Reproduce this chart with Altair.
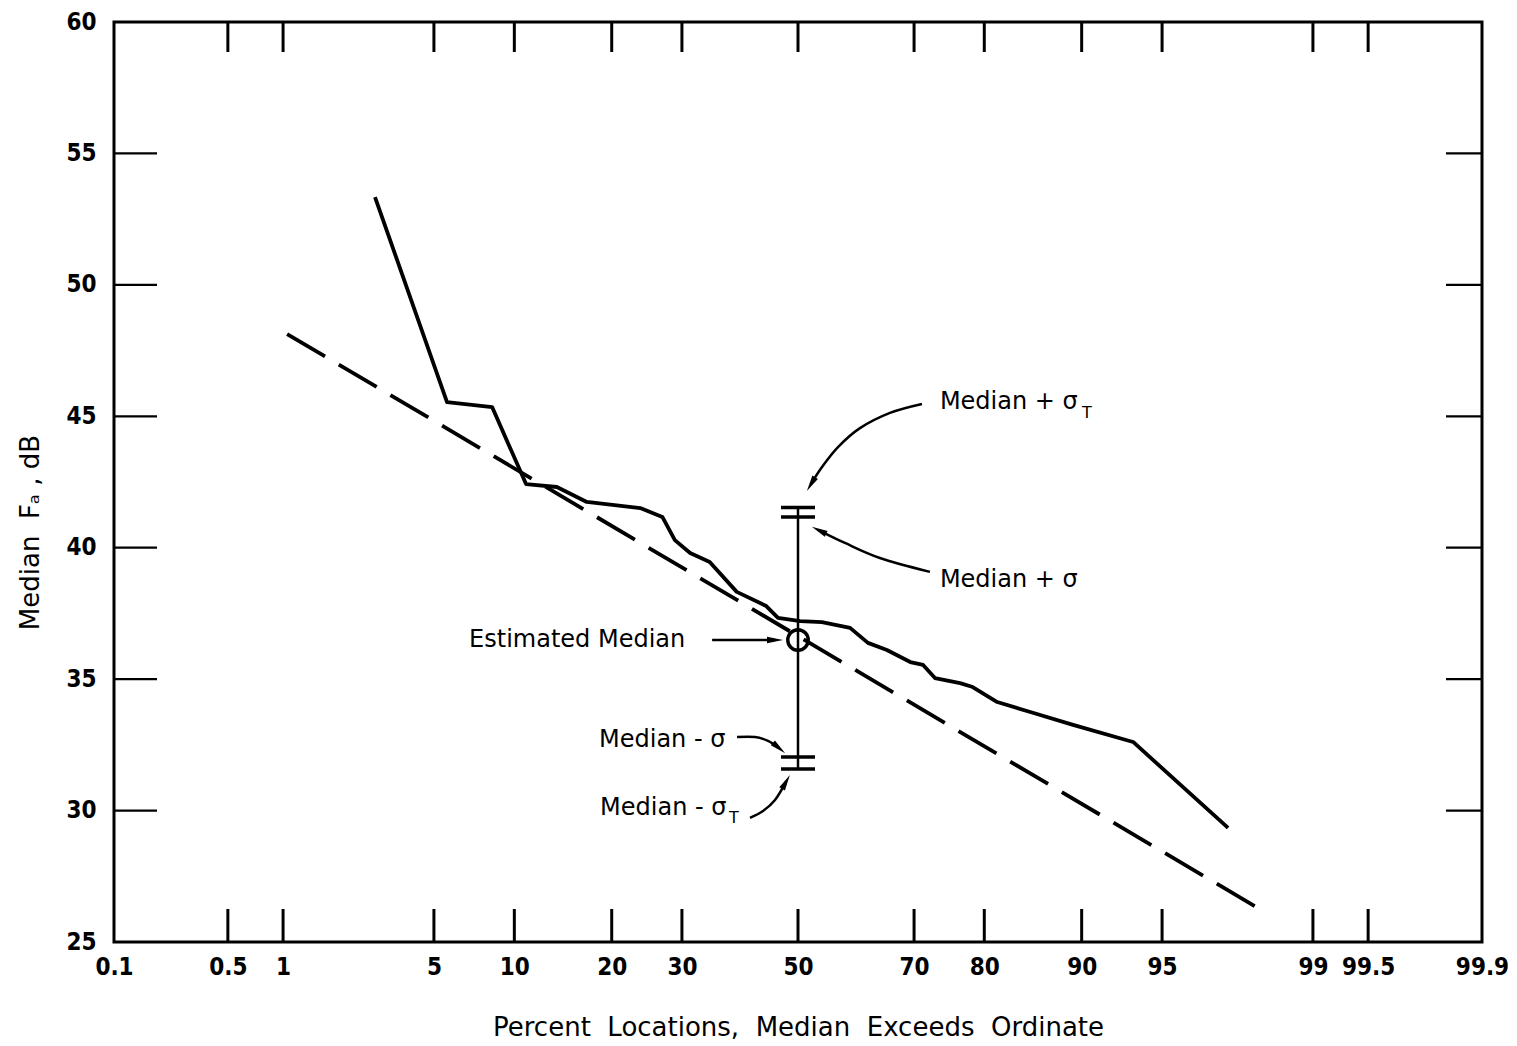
import altair as alt
import pandas as pd
from statistics import NormalDist

_nd = NormalDist()


def probit(p):
    return _nd.inv_cdf(p / 100.0)


# ---------------- data ----------------
# measured curve: percent of locations, median Fa (dB)
obs_pct = [2.80, 5.64, 8.35, 10.96, 13.8, 17.0, 23.8, 27.0, 28.9, 31.3, 34.5, 39.1,
           44.3, 46.4, 50.4, 54.3, 59.3, 62.4, 65.6, 69.4, 71.4, 73.2, 76.8, 78.5,
           81.6, 85.3, 89.3, 93.5, 97.4]
obs_db = [53.34, 45.54, 45.35, 42.42, 42.31, 41.74, 41.51, 41.17, 40.29, 39.80, 39.46,
          38.32, 37.78, 37.33, 37.21, 37.17, 36.95, 36.38, 36.11, 35.65, 35.54, 35.04,
          34.85, 34.70, 34.13, 33.75, 33.26, 32.61, 29.34]

# fitted (dashed) normal line
fit_pct = [1.05, 98.25]
fit_db = [48.13, 26.14]

# estimated median and its +/- sigma marks
median_pct = 50
median_db = 36.49
cap_names = ["Median + sigma_T", "Median + sigma", "Median - sigma", "Median - sigma_T"]
cap_db = [41.53, 41.17, 32.04, 31.58]

# axes
tick_pct = [0.1, 0.5, 1, 5, 10, 20, 30, 50, 70, 80, 90, 95, 99, 99.5, 99.9]
tick_labels = ["0.1", "0.5", "1", "5", "10", "20", "30", "50", "70", "80", "90", "95",
               "99", "99.5", "99.9"]
y_ticks = [25, 30, 35, 40, 45, 50, 55, 60]
NB = "\u00a0"
x_title = f"Percent{NB}{NB}Locations,{NB}{NB}Median{NB}{NB}Exceeds{NB}{NB}Ordinate"
y_title = f"Median{NB}{NB}F\u2090{NB},{NB}dB"

# annotations (x in probit units, y in dB)
ann_text = ["Median + σ", "Median + σ", "Estimated Median", "Median - σ", "Median - σ"]
ann_z = [0.641, 0.641, -1.486, -0.899, -0.894]
ann_db = [45.54, 38.77, 36.49, 32.69, 30.10]
sub_text = ["T", "T"]
sub_z = [1.283, -0.312]
sub_db = [45.13, 29.72]

arrow_id = [1] * 6 + [2] * 4 + [3] * 2 + [4] * 4 + [5] * 4
arrow_z = [0.560, 0.4155, 0.280, 0.1807, 0.1084, 0.0587,
           0.596, 0.370, 0.212, 0.0949,
           -0.388, -0.1039,
           -0.2755, -0.1942, -0.1355, -0.0858,
           -0.2168, -0.1581, -0.1039, -0.0542]
arrow_db = [45.47, 45.13, 44.55, 43.83, 43.07, 42.42,
            39.08, 39.61, 40.18, 40.66,
            36.49, 36.49,
            32.80, 32.80, 32.65, 32.38,
            29.72, 29.98, 30.40, 31.09]
head_angle = [211, 296, 90, 130, 29]

# ---------------- tables ----------------
obs = pd.DataFrame({"z": [probit(p) for p in obs_pct], "db": obs_db, "pct": obs_pct})
fit = pd.DataFrame({"z": [probit(p) for p in fit_pct], "db": fit_db})
caps = pd.DataFrame({"z": [probit(median_pct)] * len(cap_db), "db": cap_db, "name": cap_names})
bar = pd.DataFrame({"z": [probit(median_pct)], "db": [max(cap_db)], "bot": [min(cap_db)]})
med = pd.DataFrame({"z": [probit(median_pct)], "db": [median_db]})
tick_z = [probit(p) for p in tick_pct]
xt = pd.DataFrame({"z": tick_z[1:-1]})
yt = pd.DataFrame({"db": y_ticks[1:-1]})
ann = pd.DataFrame({"z": ann_z, "db": ann_db, "t": ann_text})
sub = pd.DataFrame({"z": sub_z, "db": sub_db, "t": sub_text})
arr = pd.DataFrame({"id": arrow_id, "z": arrow_z, "db": arrow_db,
                    "k": list(range(len(arrow_z)))})
heads = arr.groupby("id").tail(1).reset_index(drop=True).copy()
heads["ang"] = head_angle

# ---------------- scales / axes ----------------
W, H = 1368, 920
xdom = [probit(0.1), probit(99.9)]
xs = alt.Scale(domain=xdom, nice=False, zero=False)
ys = alt.Scale(domain=[25, 60], nice=False, zero=False)

label_expr = "''"
for zv, lab in reversed(list(zip(tick_z, tick_labels))):
    label_expr = f"abs(datum.value - ({zv:.6f})) < 0.01 ? '{lab}' : ({label_expr})"

LABEL_FONT = "DejaVu Sans Condensed"
TITLE_FONT = "DejaVu Sans"

x_axis = alt.Axis(values=tick_z, labelExpr=label_expr, tickSize=0, domain=False, grid=False,
                  labelFlush=False, labelOverlap=False, labelPadding=13,
                  labelFont=LABEL_FONT, labelFontSize=24, labelFontWeight="bold",
                  labelColor="black",
                  title=x_title,
                  titleFont=TITLE_FONT, titleFontSize=26, titleFontWeight="normal",
                  titleColor="black", titleY=85, titleBaseline="middle")
y_axis = alt.Axis(values=y_ticks, tickSize=0, domain=False, grid=False,
                  labelFlush=False, labelOverlap=False, labelPadding=18,
                  labelFont=LABEL_FONT, labelFontSize=24, labelFontWeight="bold",
                  labelColor="black",
                  title=y_title, titleFont=TITLE_FONT, titleFontSize=26,
                  titleFontWeight="normal", titleColor="black",
                  titleX=-84, titleY=510, titleAngle=270, titleBaseline="middle",
                  titleAlign="center")


def X():
    return alt.X("z:Q", scale=xs, axis=x_axis)


def Y(field="db:Q"):
    return alt.Y(field, scale=ys, axis=y_axis)


# ---------------- layers ----------------
solid = alt.Chart(obs).mark_line(color="black", strokeWidth=3.8, strokeJoin="round").encode(
    x=X(), y=Y(), order="pct:Q",
)

dashed = alt.Chart(fit).mark_line(color="black", strokeWidth=3.8, strokeDash=[44, 16]).encode(
    x=X(), y=Y(),
)

vbar = alt.Chart(bar).mark_rule(color="black", strokeWidth=2.5).encode(
    x=X(), y=Y(), y2="bot:Q",
)

cap_marks = alt.Chart(caps).mark_tick(color="black", orient="horizontal", size=34,
                                      thickness=3.5, opacity=1).encode(
    x=X(), y=Y(),
)

med_mark = alt.Chart(med).mark_point(shape="circle", filled=False, color="black",
                                     size=420, strokeWidth=3.4, opacity=1).encode(
    x=X(), y=Y(),
)

# inward frame ticks
top_ticks = alt.Chart(xt).mark_rule(color="black", strokeWidth=3).encode(
    x=X(), y=alt.value(0), y2=alt.value(30))
bot_ticks = alt.Chart(xt).mark_rule(color="black", strokeWidth=3).encode(
    x=X(), y=alt.value(H - 33), y2=alt.value(H))
left_ticks = alt.Chart(yt).mark_rule(color="black", strokeWidth=2.2).encode(
    y=Y(), x=alt.value(0), x2=alt.value(43))
right_ticks = alt.Chart(yt).mark_rule(color="black", strokeWidth=2.2).encode(
    y=Y(), x=alt.value(W - 36), x2=alt.value(W))

ann_marks = alt.Chart(ann).mark_text(align="left", baseline="middle", font=TITLE_FONT,
                                     fontSize=24, color="black").encode(
    x=X(), y=Y(), text="t:N",
)
sub_marks = alt.Chart(sub).mark_text(align="left", baseline="middle", font=TITLE_FONT,
                                     fontSize=16, color="black").encode(
    x=X(), y=Y(), text="t:N",
)

arrow_lines = alt.Chart(arr).mark_line(color="black", strokeWidth=2.5,
                                       interpolate="cardinal").encode(
    x=X(), y=Y(), detail="id:N", order="k:Q",
)
arrow_heads = alt.Chart(heads).mark_point(shape="M0,-1L0.4,1L-0.4,1Z", filled=True,
                                          color="black", size=256, opacity=1).encode(
    x=X(), y=Y(), angle=alt.Angle("ang:Q", scale=None),
)

chart = alt.layer(
    solid, dashed, vbar, cap_marks, med_mark, top_ticks, bot_ticks, left_ticks,
    right_ticks, ann_marks, sub_marks, arrow_lines, arrow_heads,
).properties(
    width=W, height=H,
    padding={"left": 114, "top": 22, "right": 35, "bottom": 104},
    autosize=alt.AutoSizeParams(type="none"),
    background="white",
).configure_view(stroke="black", strokeWidth=3)

chart.save("out.html", embed_options={"renderer": "svg", "actions": False})
